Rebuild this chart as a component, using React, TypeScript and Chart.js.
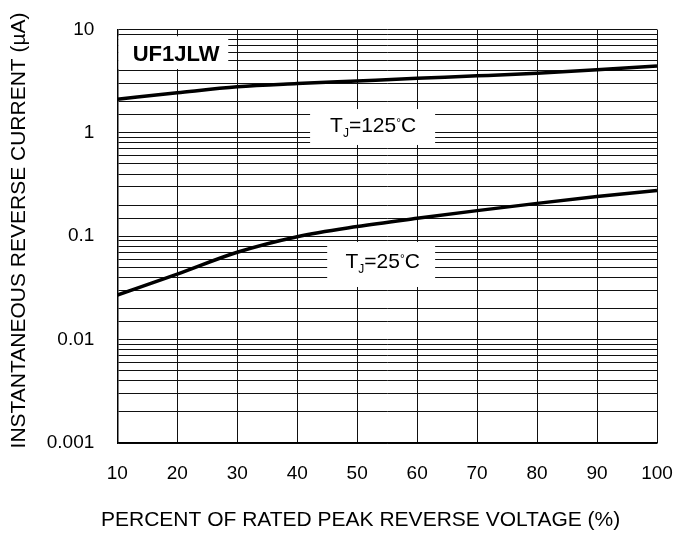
import React, { useEffect, useRef } from "react";
import { Chart, registerables } from "chart.js";

Chart.register(...registerables);

const FONT = "'Liberation Sans', Arial, Helvetica, sans-serif";

// ---- data ----
const voltagePercent = [10, 20, 30, 40, 50, 60, 70, 80, 90, 100];
const currentTj125 = [2.12, 2.44, 2.79, 3.0, 3.18, 3.37, 3.56, 3.78, 4.08, 4.44];
const currentTj25 = [0.027, 0.043, 0.07, 0.099, 0.124, 0.149, 0.177, 0.208, 0.242, 0.277];
const yDecadeLabels = ["0.001", "0.01", "0.1", "1", "10"];
const yDecadeExponents = [-3, -2, -1, 0, 1];
const xTitle = "PERCENT OF RATED PEAK REVERSE VOLTAGE (%)";
const yTitle = "INSTANTANEOUS REVERSE CURRENT (µA)";
const partLabel = "UF1JLW";
const tempLabels = ["125", "25"];

function isDecade(v: number): number {
  const l = Math.log10(v);
  const r = Math.round(l);
  return Math.abs(l - r) < 1e-6 ? r : NaN;
}

function zeroPadding(s: any) {
  s.paddingLeft = 0;
  s.paddingRight = 0;
  s.paddingTop = 0;
  s.paddingBottom = 0;
}

function drawTj(ctx: CanvasRenderingContext2D, cx: number, cy: number, temp: string) {
  const main = `21px ${FONT}`;
  const sub = `12px ${FONT}`;
  const deg = `12px ${FONT}`;
  const parts = [
    { t: "T", f: main, dy: 0 },
    { t: "J", f: sub, dy: 5 },
    { t: "=" + temp, f: main, dy: 0 },
    { t: "°", f: deg, dy: -5 },
    { t: "C", f: main, dy: 0 },
  ];
  let total = 0;
  const widths = parts.map((p) => {
    ctx.font = p.f;
    const w = ctx.measureText(p.t).width;
    total += w;
    return w;
  });
  let x = cx - total / 2;
  const base = cy + 7.5;
  ctx.fillStyle = "#000";
  ctx.textBaseline = "alphabetic";
  ctx.textAlign = "left";
  parts.forEach((p, i) => {
    ctx.font = p.f;
    ctx.fillText(p.t, x, base + p.dy);
    x += widths[i];
  });
}

const labelPlugin = {
  id: "labelBoxes",
  beforeDatasetsDraw(chart: any) {
    const { ctx, scales } = chart;
    const xs = scales.x;
    const ys = scales.y;
    const box = (x0: number, x1: number, y0: number, y1: number) => {
      const px0 = xs.getPixelForValue(x0);
      const px1 = xs.getPixelForValue(x1);
      const py0 = ys.getPixelForValue(y0);
      const py1 = ys.getPixelForValue(y1);
      ctx.fillStyle = "#fff";
      ctx.fillRect(Math.min(px0, px1), Math.min(py0, py1), Math.abs(px1 - px0), Math.abs(py1 - py0));
    };
    ctx.save();
    // part number box
    box(10.2, 28.5, 8.6, 4.15);
    ctx.fillStyle = "#000";
    ctx.font = `bold 22px ${FONT}`;
    ctx.textAlign = "center";
    ctx.textBaseline = "middle";
    ctx.fillText(partLabel, xs.getPixelForValue(19.8), ys.getPixelForValue(5.67));
    // TJ = 125 box
    box(42.15, 63.0, 1.7, 0.764);
    drawTj(ctx, xs.getPixelForValue(52.66), ys.getPixelForValue(1.206), tempLabels[0]);
    // TJ = 25 box
    box(45.0, 63.0, 0.0881, 0.0323);
    drawTj(ctx, xs.getPixelForValue(54.25), ys.getPixelForValue(0.0577), tempLabels[1]);
    ctx.restore();
  },
};

export default function App() {
  const ref = useRef<HTMLCanvasElement | null>(null);

  useEffect(() => {
    document.body.style.margin = "0";
    const canvas = ref.current;
    if (!canvas) return;
    const chart = new Chart(canvas, {
      type: "line",
      data: {
        datasets: [
          {
            label: "TJ=125°C",
            data: voltagePercent.map((x, i) => ({ x, y: currentTj125[i] })),
            borderColor: "#000",
            borderWidth: 3.5,
            pointRadius: 0,
            pointBorderWidth: 0,
            cubicInterpolationMode: "monotone",
            fill: false,
          },
          {
            label: "TJ=25°C",
            data: voltagePercent.map((x, i) => ({ x, y: currentTj25[i] })),
            borderColor: "#000",
            borderWidth: 3.5,
            pointRadius: 0,
            pointBorderWidth: 0,
            cubicInterpolationMode: "monotone",
            fill: false,
          },
        ],
      },
      options: {
        animation: false,
        responsive: false,
        devicePixelRatio: 1,
        layout: { autoPadding: false, padding: { left: 0, top: 29.5, right: 20, bottom: 0 } },
        plugins: {
          legend: { display: false },
          tooltip: { enabled: false },
          title: {
            display: true,
            position: "bottom",
            text: "\u00A0".repeat(11) + xTitle,
            color: "#000",
            font: { family: FONT, size: 21, weight: "normal" },
            padding: { top: 0, bottom: 1.5 },
          },
        },
        events: [],
        scales: {
          x: {
            type: "linear",
            min: 10,
            max: 100,
            afterFit: (s: any) => {
              s.height = 64.3;
              zeroPadding(s);
            },
            ticks: {
              stepSize: 10,
              color: "#000",
              font: { family: FONT, size: 19 },
              padding: 19,
            },
            grid: { color: "#111", lineWidth: 1, drawTicks: false },
            border: { color: "#000", width: 1.5 },
            title: { display: false },
          },
          y: {
            type: "logarithmic",
            min: 0.001,
            max: 10,
            afterFit: (s: any) => {
              s.width = 117.3;
              zeroPadding(s);
            },
            ticks: {
              autoSkip: false,
              color: "#000",
              font: { family: FONT, size: 19 },
              padding: 23,
              callback: (v: any) => {
                const e = isDecade(Number(v));
                const idx = yDecadeExponents.indexOf(e);
                return idx >= 0 ? yDecadeLabels[idx] : "";
              },
            },
            grid: { color: "#111", lineWidth: 1, drawTicks: false },
            border: { color: "#000", width: 1.5 },
            title: {
              display: true,
              text: "\u00A0\u00A0" + yTitle,
              color: "#000",
              font: { family: FONT, size: 21 },
              padding: { top: 7, bottom: 0 },
            },
          },
        },
      },
      plugins: [labelPlugin],
    });
    return () => chart.destroy();
  }, []);

  return <canvas ref={ref} width={677} height={534} style={{ display: "block", width: 677, height: 534 }} />;
}
